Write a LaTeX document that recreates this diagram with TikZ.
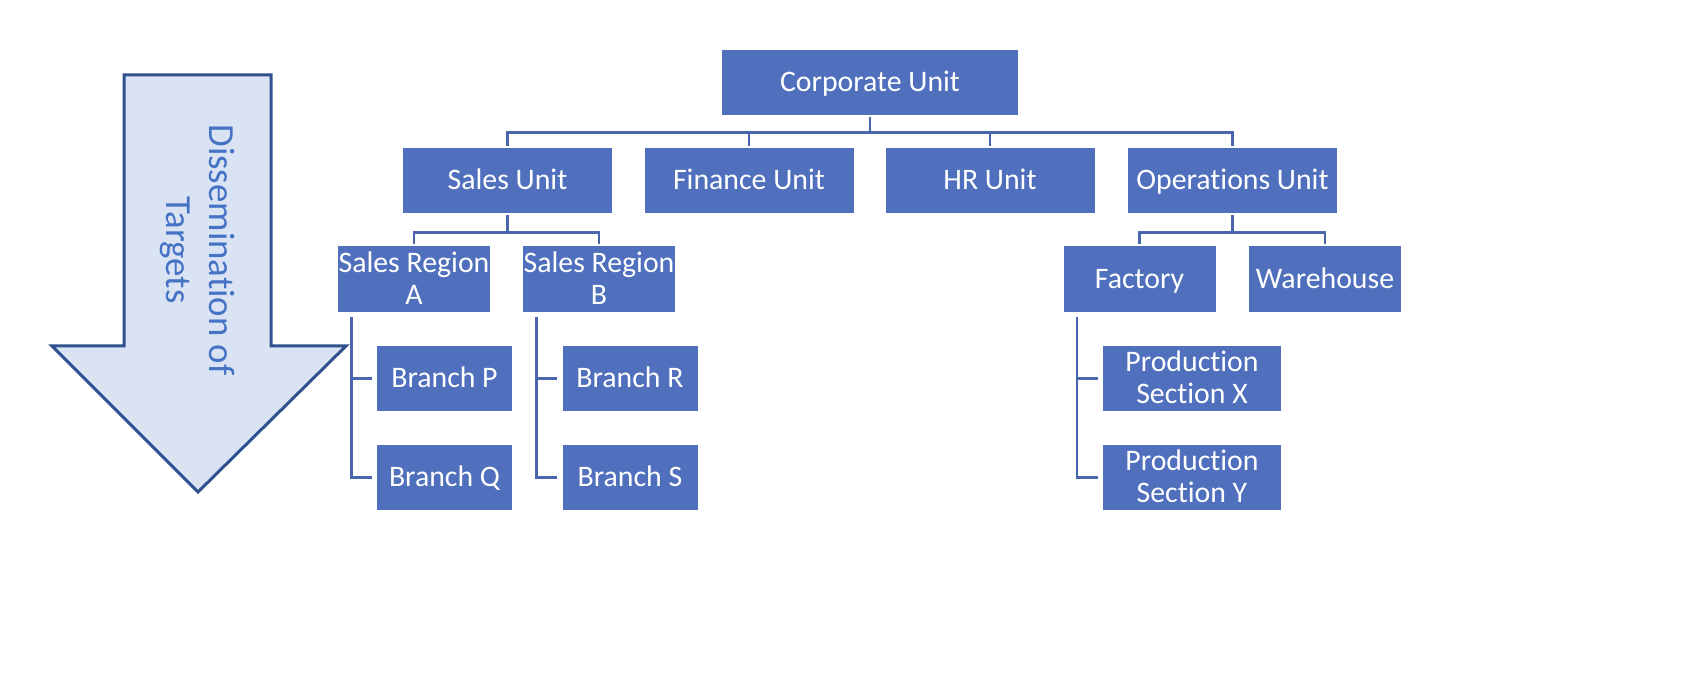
\documentclass[tikz,border=0pt]{standalone}
\usepackage{fontspec}
\setmainfont[Ligatures={NoCommon}]{Carlito}
\definecolor{boxblue}{HTML}{5070BD}
\definecolor{linkblue}{HTML}{4A66AC}
\definecolor{arrowfill}{HTML}{DAE3F3}
\definecolor{arrowdraw}{HTML}{2F528F}
\definecolor{arrowtext}{HTML}{4472C4}
\newcommand{\ls}{\rule[-2.6pt]{0pt}{14.4pt}}
\tikzset{
  unitbox/.style={fill=boxblue, text=white, inner sep=0pt, align=center,
    font=\fontsize{14.9}{16}\selectfont},
  lvlone/.style={unitbox, minimum width=148pt, minimum height=32.5pt},
  lvltwo/.style={unitbox, minimum width=104.5pt, minimum height=32.5pt},
  lvlthree/.style={unitbox, minimum width=76pt, minimum height=33pt},
  branchbox/.style={unitbox, minimum width=67.5pt, minimum height=32.5pt},
  prodbox/.style={unitbox, minimum width=89pt, minimum height=32.5pt},
  link/.style={draw=linkblue, line width=1.3pt},
}
\begin{document}
\begin{tikzpicture}[x=0.5pt, y=-0.5pt]
\useasboundingbox (0,0) rectangle (1686,694);
% arrow
\draw[fill=arrowfill, draw=arrowdraw, line width=1.5pt, line join=miter]
  (124,75) -- (271,75) -- (271,346) -- (346,346) -- (198,492) -- (52,346) -- (124,346) -- cycle;
\node[rotate=-90, text=arrowtext, align=center, font=\fontsize{18.4}{21.5}\selectfont] (arrowtxt) at (197,250) {Dissemination of\\Targets};
% nodes
\node[lvlone] (corp) at (870,82.5) {\ls Corporate Unit};
\node[lvltwo] (sales) at (507.5,180.5) {\ls Sales Unit};
\node[lvltwo] (fin) at (749,180.5) {\ls Finance Unit};
\node[lvltwo] (hr) at (990,180.5) {\ls HR Unit};
\node[lvltwo] (ops) at (1232.5,180.5) {\ls Operations Unit};
\node[lvlthree] (ra) at (414,279) {\ls Sales Region\\\ls A};
\node[lvlthree] (rb) at (599,279) {\ls Sales Region\\\ls B};
\node[lvlthree] (fac) at (1139.5,279) {\ls Factory};
\node[lvlthree] (wh) at (1325,279) {\ls Warehouse};
\node[branchbox] (bp) at (444.5,378.5) {\ls Branch P};
\node[branchbox] (bq) at (444.5,477.5) {\ls Branch Q};
\node[branchbox] (br) at (630,378.5) {\ls Branch R};
\node[branchbox] (bs) at (630,477.5) {\ls Branch S};
\node[prodbox] (px) at (1192,378.5) {\ls Production\\\ls Section X};
\node[prodbox] (py) at (1192,477.5) {\ls Production\\\ls Section Y};
% connectors
\foreach \c in {sales,fin,hr,ops}
  \draw[link] ([yshift=-1pt]corp.south) -- ++(0,15) -| ([yshift=1pt]\c.north);
\foreach \c in {ra,rb}
  \draw[link] ([yshift=-1pt]sales.south) -- ++(0,17) -| ([yshift=1pt]\c.north);
\foreach \c in {fac,wh}
  \draw[link] ([yshift=-1pt]ops.south) -- ++(0,17) -| ([yshift=1pt]\c.north);
\coordinate (ta) at ([xshift=7pt,yshift=-2.5pt]ra.south west);
\coordinate (tb) at ([xshift=7pt,yshift=-2.5pt]rb.south west);
\coordinate (tf) at ([xshift=7pt,yshift=-2.5pt]fac.south west);
\draw[link, shorten >=2.5pt] (ta) |- (bp.west);
\draw[link, shorten >=2.5pt] (ta) |- (bq.west);
\draw[link, shorten >=2.5pt] (tb) |- (br.west);
\draw[link, shorten >=2.5pt] (tb) |- (bs.west);
\draw[link, shorten >=2.5pt] (tf) |- (px.west);
\draw[link, shorten >=2.5pt] (tf) |- (py.west);
\end{tikzpicture}
\end{document}
